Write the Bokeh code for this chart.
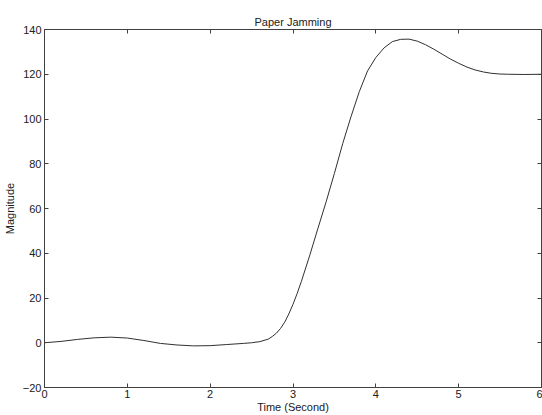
from bokeh.plotting import figure
from bokeh.models import LinearAxis, Range1d, FixedTicker, ColumnDataSource
from bokeh.embed import file_html
from bokeh.resources import INLINE

# Data
time_s = [0.0, 0.2, 0.4, 0.6, 0.8, 1.0, 1.2, 1.4, 1.6, 1.8, 2.0, 2.2, 2.4, 2.5,
          2.6, 2.7, 2.75, 2.8, 2.85, 2.9, 2.95, 3.0, 3.05, 3.1, 3.2, 3.3, 3.4,
          3.5, 3.6, 3.7, 3.8, 3.9, 4.0, 4.1, 4.2, 4.3, 4.4, 4.5, 4.6, 4.7, 4.8,
          4.9, 5.0, 5.1, 5.2, 5.3, 5.4, 5.5, 5.6, 5.8, 6.0]
magnitude = [0.0, 0.6, 1.5, 2.2, 2.5, 2.1, 1.0, -0.3, -1.0, -1.4, -1.3, -0.8,
             -0.3, 0.0, 0.5, 1.6, 2.8, 4.3, 6.4, 9.2, 12.9, 17.2, 22.0, 27.3,
             38.8, 51.0, 63.0, 75.7, 89.0, 101.0, 112.2, 121.5, 127.5, 131.8,
             134.6, 135.6, 135.7, 134.8, 133.2, 131.2, 129.0, 126.8, 124.9,
             123.2, 121.9, 121.0, 120.4, 120.1, 120.0, 119.9, 120.0]
x_ticks = [0, 1, 2, 3, 4, 5, 6]
y_ticks = [-20, 0, 20, 40, 60, 80, 100, 120, 140]

FONT = "Liberation Sans"
TXT = "#202020"
AX = "#404040"

p = figure(width=542, height=415, output_backend="svg", toolbar_location=None,
           x_range=Range1d(x_ticks[0], x_ticks[-1]),
           y_range=Range1d(y_ticks[0], y_ticks[-1]),
           min_border_left=42, min_border_right=1, min_border_top=29,
           min_border_bottom=28, title="Paper Jamming")
p.background_fill_color = "white"
p.border_fill_color = "white"
p.outline_line_color = AX
p.grid.visible = False

p.title.align = "center"
p.title.text_font = FONT
p.title.text_font_size = "11px"
p.title.text_font_style = "normal"
p.title.text_color = TXT
p.title.standoff = 4

src = ColumnDataSource(dict(t=time_s, m=magnitude))
p.line("t", "m", source=src, line_color="#303030", line_width=1)

def style(ax, ticks):
    ax.ticker = FixedTicker(ticks=ticks)
    ax.minor_tick_line_color = None
    ax.major_tick_in = 4
    ax.major_tick_out = 0
    ax.axis_line_color = AX
    ax.major_tick_line_color = AX
    ax.major_label_text_font = FONT
    ax.major_label_text_font_size = "11px"
    ax.major_label_text_color = TXT
    ax.axis_label_text_font = FONT
    ax.axis_label_text_font_size = "11px"
    ax.axis_label_text_font_style = "normal"
    ax.axis_label_text_color = TXT

style(p.xaxis[0], x_ticks)
p.xaxis[0].axis_label = "Time (Second)"
p.xaxis[0].major_label_standoff = 2
p.xaxis[0].axis_label_standoff = 0
style(p.yaxis[0], y_ticks)
p.yaxis[0].axis_label = "Magnitude"
p.yaxis[0].major_label_standoff = 3
p.yaxis[0].axis_label_standoff = 4

# box axes on top and right with inward ticks and no labels
for side, ticks in (("above", x_ticks), ("right", y_ticks)):
    ax = LinearAxis()
    style(ax, ticks)
    ax.major_label_overrides = {t: "" for t in ticks}
    ax.major_label_standoff = 0
    p.add_layout(ax, side)

open("out.html", "w").write(file_html(p, INLINE))
